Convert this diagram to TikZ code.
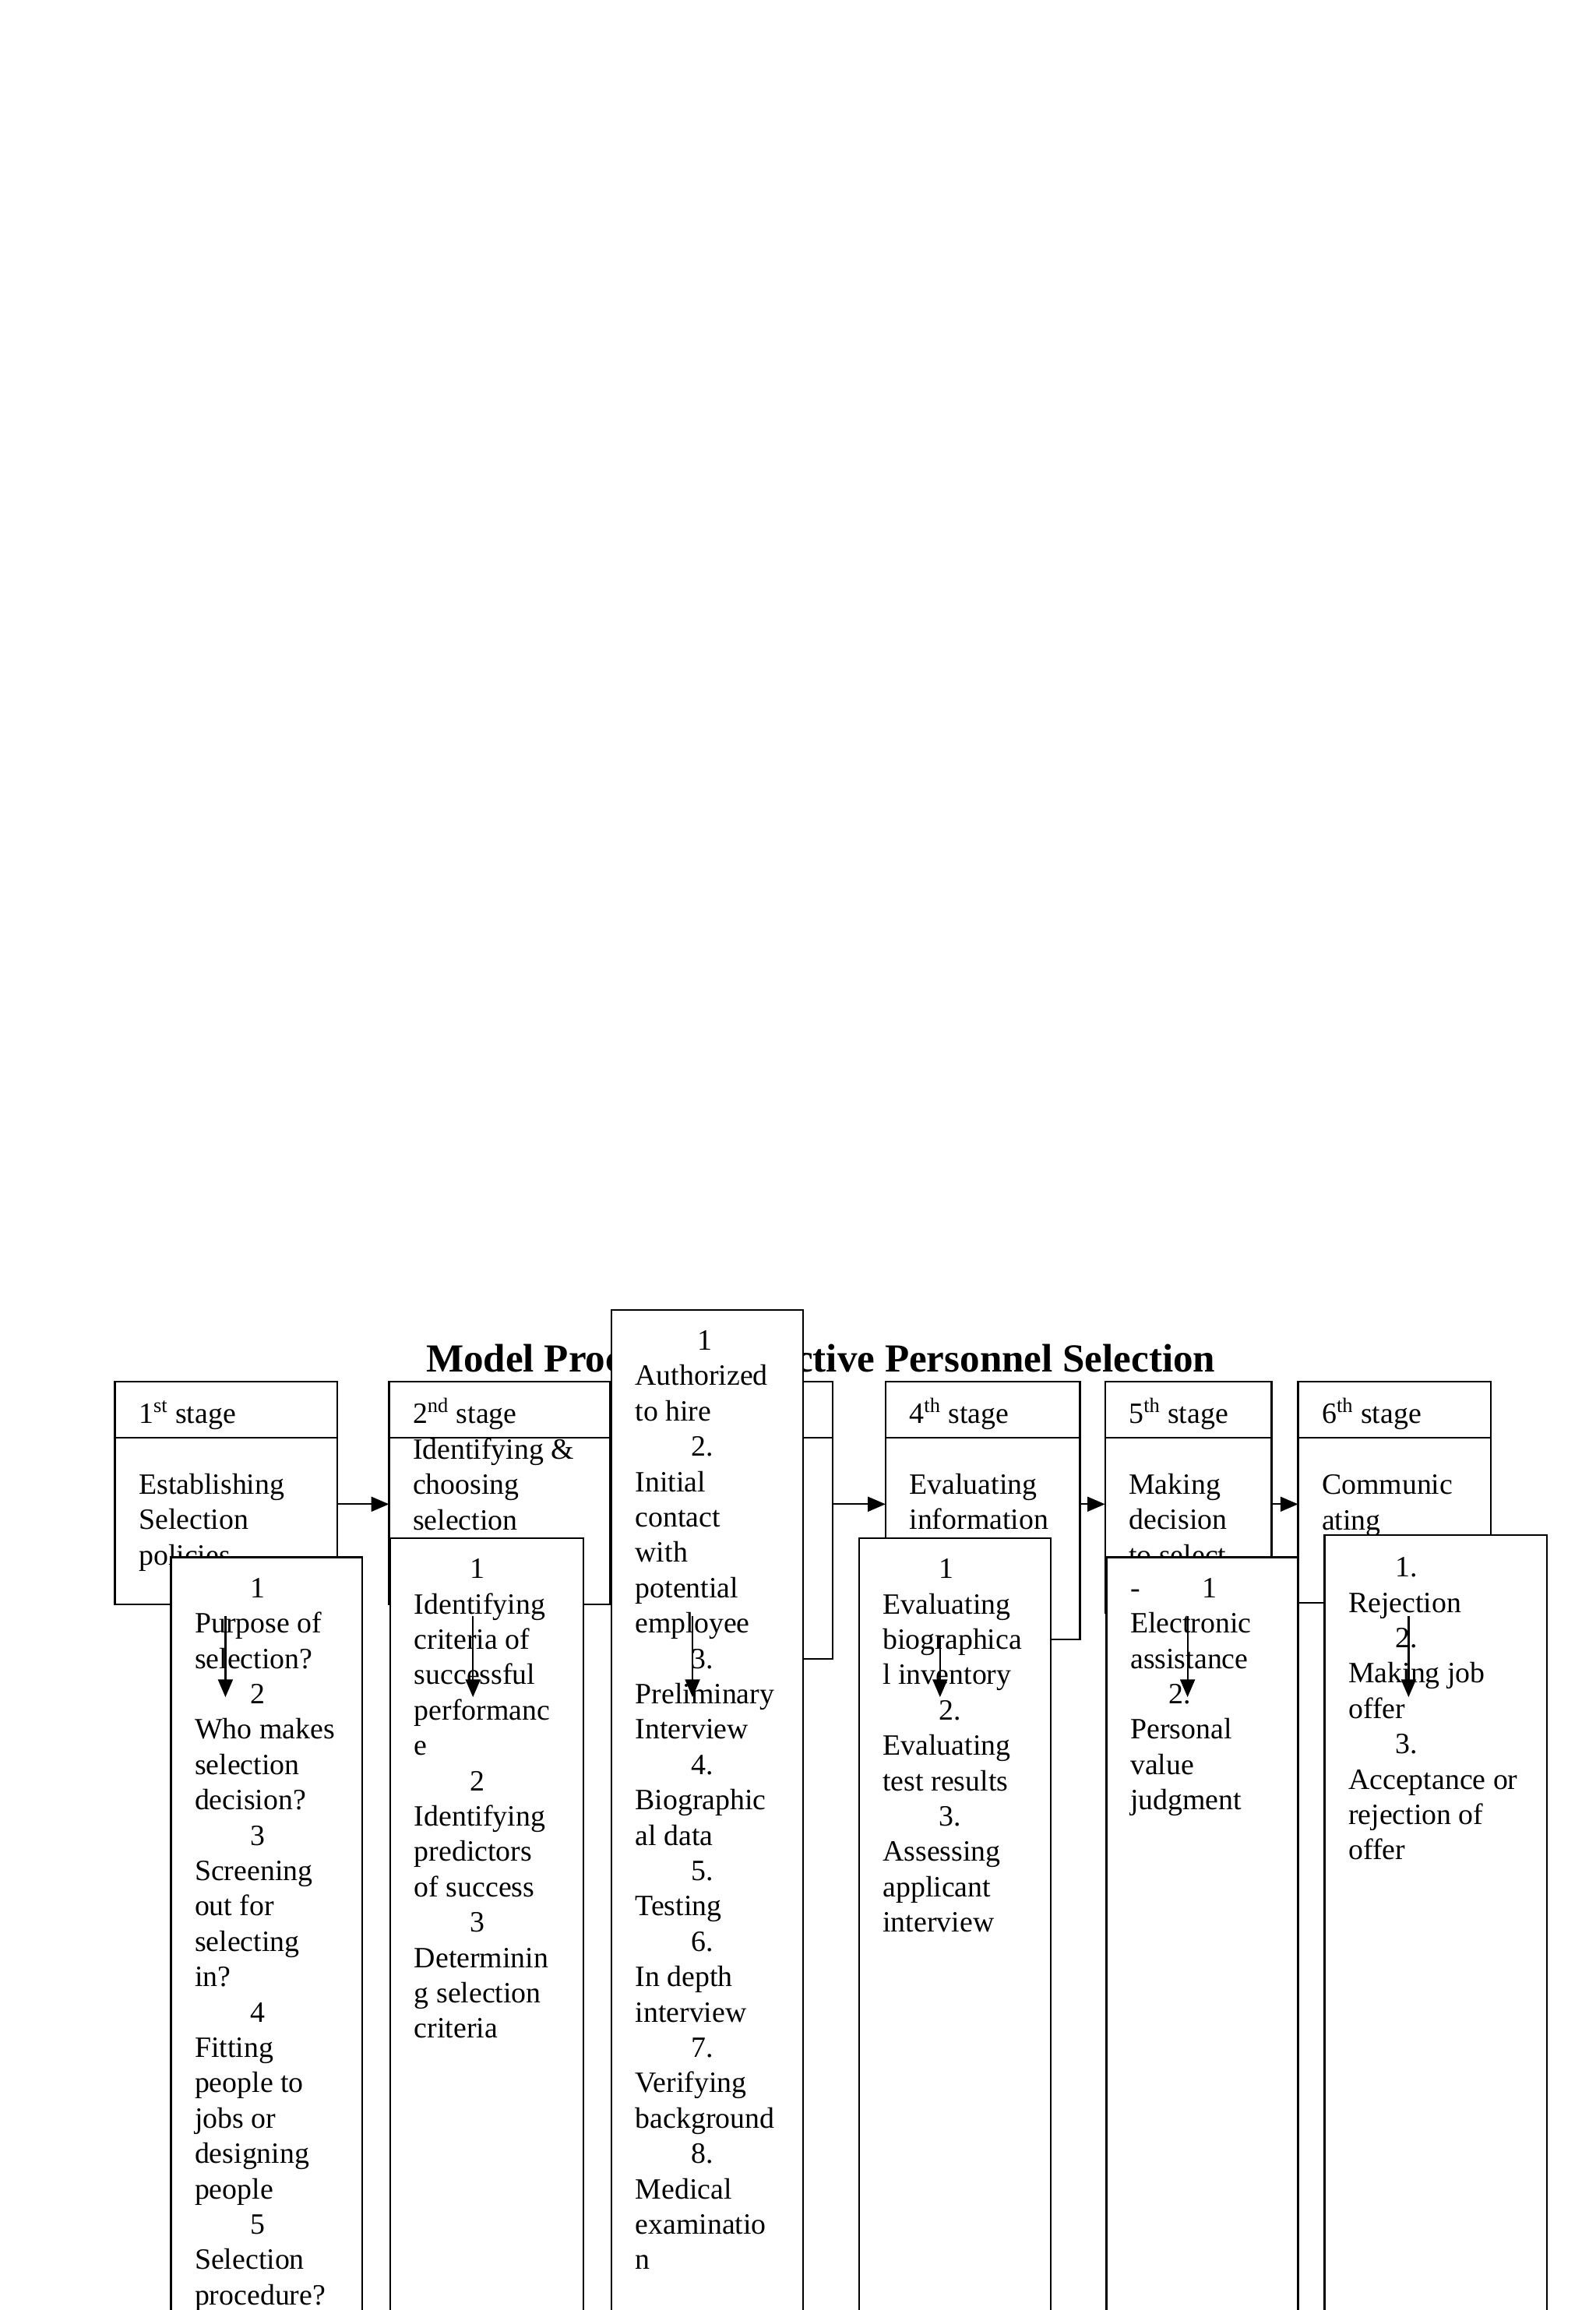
\documentclass[tikz,border=0pt]{standalone}
\usepackage{fontspec}
\setmainfont{Liberation Serif}
\usetikzlibrary{arrows.meta}
\begin{document}
\begin{tikzpicture}[x=1pt,y=-1pt,
  box/.style={draw,line width=1.2pt,fill=white},
  txt/.style={anchor=north west,inner sep=0pt,align=left,font=\fontsize{20}{24}\selectfont},
  hd/.style={anchor=base west,inner sep=0pt,font=\fontsize{20}{24}\selectfont},
  arr/.style={line width=1.2pt,-{Triangle[length=12pt,width=10pt]}}]
\useasboundingbox (0,0) rectangle (1083,1568);
\clip (0,0) rectangle (1083,1568);
\newcommand{\nm}[1]{\hspace*{1.9em}#1}
% title
\node[inner sep=0pt,font=\fontsize{27}{32}\selectfont\bfseries,anchor=base] (title) at (557,931) {Model Process of Effective Personnel Selection};
% stage boxes
\foreach \n/\l/\r/\b in {s1/78/229/1089, s2/264/414/1089, s3/452/565/1126, s4/601/733/1113, s5/750/863/1095, s6/881/1012/1088}{
  \draw[box] (\l,938) rectangle (\r,\b);
  \draw[line width=1.2pt] (\l,976) -- (\r,976);
  \coordinate (\n w) at (\l,1021); \coordinate (\n e) at (\r,1021);
}
\node[hd] (h1) at (94,966) {1\textsuperscript{st} stage};
\node[hd] (h2) at (280,966) {2\textsuperscript{nd} stage};
\node[hd] (h4) at (617,966) {4\textsuperscript{th} stage};
\node[hd] (h5) at (766,966) {5\textsuperscript{th} stage};
\node[hd] (h6) at (897,966) {6\textsuperscript{th} stage};
\node[txt] (b1) at (94,1000) {Establishing\\Selection\\policies};
\node[txt] (b2) at (280,976) {Identifying \&\\choosing\\selection};
\node[txt] (b4) at (617,1000) {Evaluating\\information};
\node[txt] (b5) at (766,1000) {Making\\decision\\to select};
\node[txt] (b6) at (897,1001) {Communic\\ating};
\draw[arr] (s1e) -- (s2w);
\draw[arr] (s2e) -- (s3w);
\draw[arr] (s3e) -- (s4w);
\draw[arr] (s4e) -- (s5w);
\draw[arr] (s5e) -- (s6w);
% sub boxes
\draw[box] (116,1057) rectangle (246,1600);
\draw[box] (265,1044) rectangle (396,1600);
\draw[box] (415,889) rectangle (545,1600);
\draw[box] (583,1044) rectangle (713,1600);
\draw[box] (751,1057) rectangle (881,1600);
\draw[box] (899,1042) rectangle (1050,1600);
\node[txt] (tA) at (132,1071) {\nm{1}\\Purpose of\\selection?\\\nm{2}\\Who makes\\selection\\decision?\\\nm{3}\\Screening\\out for\\selecting\\in?\\\nm{4}\\Fitting\\people to\\jobs or\\designing\\people\\\nm{5}\\Selection\\procedure?};
\node[txt] (tB) at (281,1058) {\nm{1}\\Identifying\\criteria of\\successful\\performanc\\e\\\nm{2}\\Identifying\\predictors\\of success\\\nm{3}\\Determinin\\g selection\\criteria};
\node[txt] (tC) at (431,903) {\hspace*{2.1em}1\\Authorized\\to hire\\\nm{2.}\\Initial\\contact\\with\\potential\\employee\\\nm{3.}\\Preliminary\\Interview\\\nm{4.}\\Biographic\\al data\\\nm{5.}\\Testing\\\nm{6.}\\In depth\\interview\\\nm{7.}\\Verifying\\background\\\nm{8.}\\Medical\\examinatio\\n};
\node[txt] (tD) at (599,1058) {\nm{1}\\Evaluating\\biographica\\l inventory\\\nm{2.}\\Evaluating\\test results\\\nm{3.}\\Assessing\\applicant\\interview};
\node[txt] (tE) at (767,1071) {-\hspace*{2.1em}1\\Electronic\\assistance\\\hspace*{1.3em}2.\\Personal\\value\\judgment};
\node[txt] (tF) at (915,1057) {\hspace*{1.6em}1.\\Rejection\\\hspace*{1.6em}2.\\Making job\\offer\\\hspace*{1.6em}3.\\Acceptance or\\rejection of\\offer};
% down arrows
\foreach \x/\t in {153/1097, 321/1097, 470/1097, 638/1110, 806/1097, 956/1097}{
  \draw[arr] (\x,\t) -- (\x,1152);
}
\end{tikzpicture}
\end{document}
